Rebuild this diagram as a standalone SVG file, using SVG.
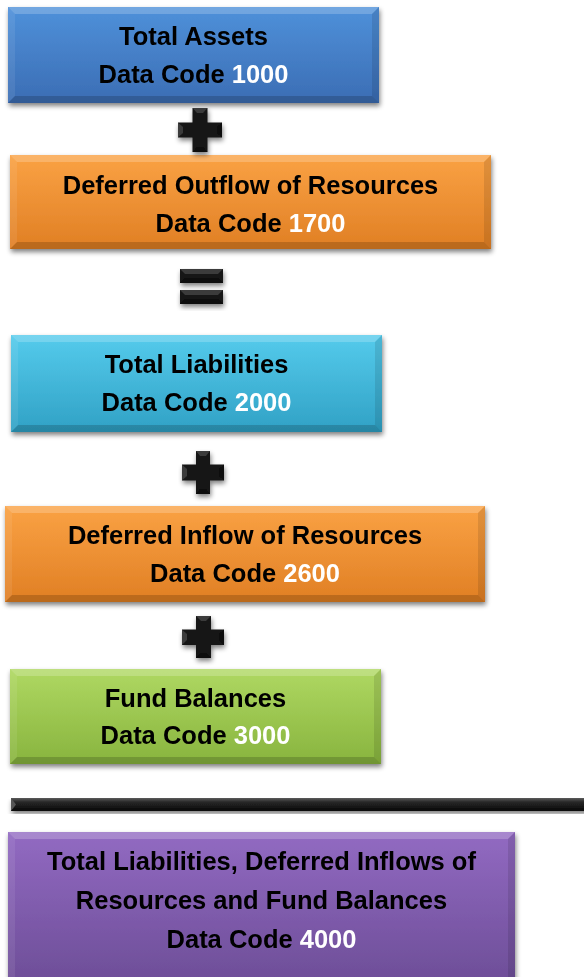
<svg xmlns="http://www.w3.org/2000/svg" width="584" height="977" viewBox="0 0 584 977">
<style>
  .t { font-family: "Liberation Sans", Arial, sans-serif; font-weight: bold; font-size: 25.5px; fill: #000; text-anchor: middle; }
  .code { fill: #fff; }
  .hl { fill: #fff; opacity: 0.2; }
  .hl2 { fill: #fff; opacity: 0.08; }
  .sh { fill: #000; opacity: 0.1; }
  .sh2 { fill: #000; opacity: 0.17; }
  .op { fill: #151515; }
  .opf { fill: #fff; opacity: 0.16; }
  .opd { fill: #000; opacity: 0.5; }
</style>
<defs>
  <filter id="shadow" x="-10%" y="-10%" width="125%" height="130%">
    <feGaussianBlur in="SourceAlpha" stdDeviation="2.5"/>
    <feOffset dx="1" dy="3" result="b"/>
    <feComponentTransfer><feFuncA type="linear" slope="0.5"/></feComponentTransfer>
    <feMerge><feMergeNode/><feMergeNode in="SourceGraphic"/></feMerge>
  </filter>
  <linearGradient id="gBlue" x1="0" y1="0" x2="0" y2="1"><stop offset="0" stop-color="#4f91da"/><stop offset="1" stop-color="#3b6db4"/></linearGradient>
  <linearGradient id="gOrange" x1="0" y1="0" x2="0" y2="1"><stop offset="0" stop-color="#faa244"/><stop offset="1" stop-color="#e07f24"/></linearGradient>
  <linearGradient id="gCyan" x1="0" y1="0" x2="0" y2="1"><stop offset="0" stop-color="#55cbec"/><stop offset="1" stop-color="#30a1c5"/></linearGradient>
  <linearGradient id="gGreen" x1="0" y1="0" x2="0" y2="1"><stop offset="0" stop-color="#afd862"/><stop offset="1" stop-color="#88b43e"/></linearGradient>
  <linearGradient id="gPurple" x1="0" y1="0" x2="0" y2="1"><stop offset="0" stop-color="#926ac2"/><stop offset="1" stop-color="#6b4c95"/></linearGradient>
  <linearGradient id="gBar" x1="0" y1="0" x2="0" y2="1"><stop offset="0" stop-color="#5a5a5a"/><stop offset="0.3" stop-color="#2a2a2a"/><stop offset="1" stop-color="#050505"/></linearGradient>
</defs>

<g id="total-assets" filter="url(#shadow)">
  <rect x="8" y="7" width="371" height="96" fill="url(#gBlue)"/>
  <polygon class="hl" points="8,7 379,7 372,14 15,14"/>
  <polygon class="hl2" points="8,7 15,14 15,96 8,103"/>
  <polygon class="sh" points="379,7 379,103 372,96 372,14"/>
  <polygon class="sh2" points="8,103 15,96 372,96 379,103"/>
  <text class="t" x="193.5" y="45">Total Assets</text>
  <text class="t" x="193.5" y="83">Data Code <tspan class="code">1000</tspan></text>
</g>

<g id="deferred-outflow" filter="url(#shadow)">
  <rect x="10" y="155" width="481" height="94" fill="url(#gOrange)"/>
  <polygon class="hl" points="10,155 491,155 484,162 17,162"/>
  <polygon class="hl2" points="10,155 17,162 17,242 10,249"/>
  <polygon class="sh" points="491,155 491,249 484,242 484,162"/>
  <polygon class="sh2" points="10,249 17,242 484,242 491,249"/>
  <text class="t" x="250.5" y="194">Deferred Outflow of Resources</text>
  <text class="t" x="250.5" y="232">Data Code <tspan class="code">1700</tspan></text>
</g>

<g id="total-liabilities" filter="url(#shadow)">
  <rect x="11" y="335" width="371" height="97" fill="url(#gCyan)"/>
  <polygon class="hl" points="11,335 382,335 375,342 18,342"/>
  <polygon class="hl2" points="11,335 18,342 18,425 11,432"/>
  <polygon class="sh" points="382,335 382,432 375,425 375,342"/>
  <polygon class="sh2" points="11,432 18,425 375,425 382,432"/>
  <text class="t" x="196.5" y="373">Total Liabilities</text>
  <text class="t" x="196.5" y="411">Data Code <tspan class="code">2000</tspan></text>
</g>

<g id="deferred-inflow" filter="url(#shadow)">
  <rect x="5" y="506" width="480" height="96" fill="url(#gOrange)"/>
  <polygon class="hl" points="5,506 485,506 478,513 12,513"/>
  <polygon class="hl2" points="5,506 12,513 12,595 5,602"/>
  <polygon class="sh" points="485,506 485,602 478,595 478,513"/>
  <polygon class="sh2" points="5,602 12,595 478,595 485,602"/>
  <text class="t" x="245" y="544">Deferred Inflow of Resources</text>
  <text class="t" x="245" y="582">Data Code <tspan class="code">2600</tspan></text>
</g>

<g id="fund-balances" filter="url(#shadow)">
  <rect x="10" y="669" width="371" height="95" fill="url(#gGreen)"/>
  <polygon class="hl" points="10,669 381,669 374,676 17,676"/>
  <polygon class="hl2" points="10,669 17,676 17,757 10,764"/>
  <polygon class="sh" points="381,669 381,764 374,757 374,676"/>
  <polygon class="sh2" points="10,764 17,757 374,757 381,764"/>
  <text class="t" x="195.5" y="707">Fund Balances</text>
  <text class="t" x="195.5" y="744">Data Code <tspan class="code">3000</tspan></text>
</g>

<g id="total-liabilities-deferred-fund" filter="url(#shadow)">
  <rect x="8" y="832" width="507" height="160" fill="url(#gPurple)"/>
  <polygon class="hl" points="8,832 515,832 508,839 15,839"/>
  <polygon class="hl2" points="8,832 15,839 15,992 8,992"/>
  <polygon class="sh" points="515,832 515,992 508,992 508,839"/>
  <text class="t" x="261.5" y="870">Total Liabilities, Deferred Inflows of</text>
  <text class="t" x="261.5" y="909">Resources and Fund Balances</text>
  <text class="t" x="261.5" y="948">Data Code <tspan class="code">4000</tspan></text>
</g>

<g id="connectors">
  <g id="plus-1" filter="url(#shadow)">
    <path class="op" d="M192.5,108 H207.5 V122.5 H222 V137.5 H207.5 V152 H192.5 V137.5 H178 V122.5 H192.5 Z"/>
    <polygon class="opf" points="192.5,108 207.5,108 203,113 197,113"/>
    <polygon class="opf" points="178,122.5 183,127 183,133 178,137.5"/>
    <polygon class="opd" points="192.5,152 207.5,152 203,147 197,147"/>
    <polygon class="opd" points="222,122.5 217,127 217,133 222,137.5"/>
  </g>
  <g id="equals" filter="url(#shadow)">
    <path class="op" d="M180,269 H223 V283 H180 Z M180,290 H223 V304 H180 Z"/>
    <polygon class="opf" points="180,269 223,269 218,274 185,274"/>
    <polygon class="opf" points="180,290 223,290 218,295 185,295"/>
    <polygon class="opd" points="180,283 185,278 218,278 223,283"/>
    <polygon class="opd" points="180,304 185,299 218,299 223,304"/>
  </g>
  <g id="plus-2" filter="url(#shadow)">
    <path class="op" d="M196,451 H210 V464.5 H224 V480.5 H210 V494 H196 V480.5 H182 V464.5 H196 Z"/>
    <polygon class="opf" points="196,451 210,451 206,456 200,456"/>
    <polygon class="opf" points="182,464.5 187,469 187,476 182,480.5"/>
    <polygon class="opd" points="196,494 210,494 206,489 200,489"/>
    <polygon class="opd" points="224,464.5 219,469 219,476 224,480.5"/>
  </g>
  <g id="plus-3" filter="url(#shadow)">
    <path class="op" d="M196,616 H211 V629.5 H224 V645 H211 V658 H196 V645 H182 V629.5 H196 Z"/>
    <polygon class="opf" points="196,616 211,616 206,621 201,621"/>
    <polygon class="opf" points="182,629.5 187,634 187,640 182,645"/>
    <polygon class="opd" points="196,658 211,658 206,653 201,653"/>
    <polygon class="opd" points="224,629.5 219,634 219,640 224,645"/>
  </g>
  <g id="total-bar" filter="url(#shadow)">
    <rect x="11" y="798" width="580" height="13" fill="url(#gBar)"/>
    <polygon points="11,798 16,804.5 11,811" fill="#555"/>
  </g>
</g>
</svg>
